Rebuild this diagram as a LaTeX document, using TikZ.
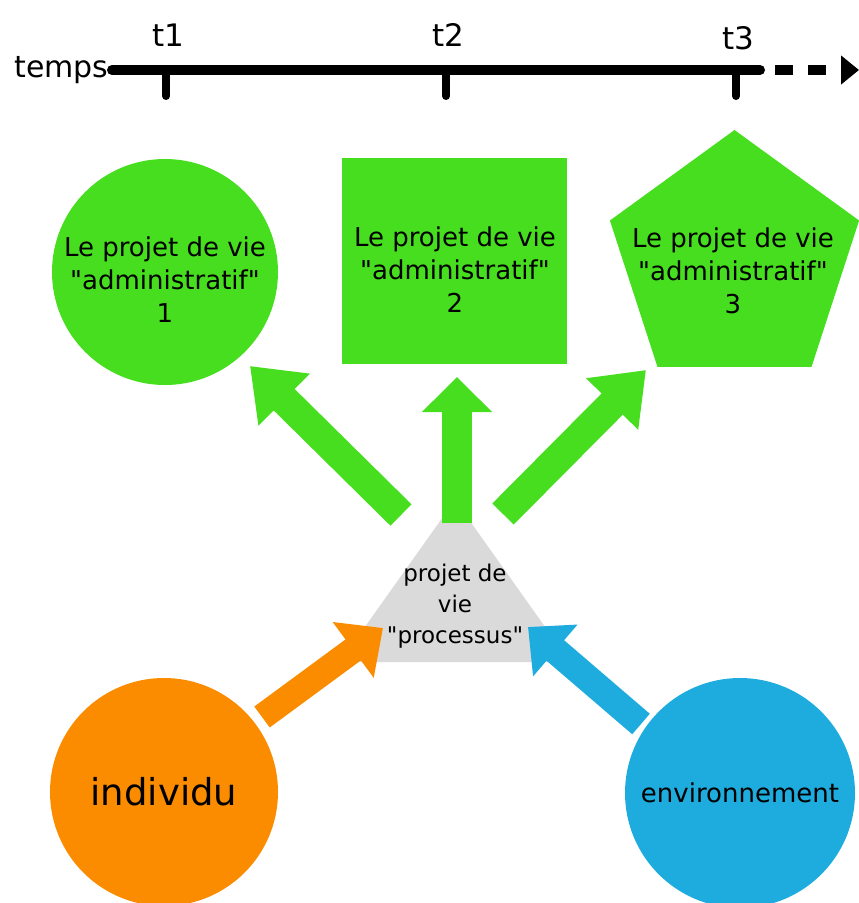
\documentclass[tikz,border=0pt]{standalone}
\usepackage{fontspec}
\setmainfont{DejaVu Sans}[Ligatures=TeXOff]
\usetikzlibrary{arrows.meta,shapes.geometric}

\definecolor{vert}{RGB}{70,222,30}
\definecolor{orangeind}{RGB}{251,140,0}
\definecolor{bleuenv}{RGB}{30,172,222}
\definecolor{gris}{RGB}{218,218,218}

\tikzset{
  forme/.style={fill=vert, draw=none, inner sep=0pt},
  texte/.style={align=center, font=\fontsize{26}{33}\selectfont},
  fleche/.style={line width=30pt, -{Triangle[width=70pt,length=48pt]}},
  cran/.style={line width=8pt, line cap=round},
}

\begin{document}
\begin{tikzpicture}[x=1pt,y=-1pt]
  \useasboundingbox (0,0) rectangle (859,903);

  % axe du temps
  \coordinate (tdeb) at (112,70);
  \coordinate (tfin) at (760,70);
  \coordinate (tpts) at (775,70);
  \coordinate (tbout) at (859,70);
  \draw[line width=10pt, line cap=round] (tdeb) -- (tfin);
  \draw[line width=10pt, dash pattern=on 18pt off 15pt,
        -{Triangle[width=28pt,length=18pt]}] (tpts) -- (tbout);
  \node[anchor=east, font=\fontsize{30}{30}\selectfont] (temps) at (tdeb) {temps};

  \foreach \x/\n/\y in {166/1/46, 446/2/46, 736/3/49} {
    \draw[cran] (\x,72) -- (\x,96);
    \node[anchor=base, font=\fontsize{31}{31}\selectfont] (t\n) at (\x+2,\y) {t\n};
  }

  % les trois projets administratifs
  \node[forme, circle, minimum size=226pt] (adm1) at (165,272) {};
  \node[forme, rectangle, minimum width=225pt, minimum height=206pt] (adm2) at (454.5,261) {};
  \node[forme, regular polygon, regular polygon sides=5, minimum size=262pt] (adm3) at (734.5,261) {};

  \node[texte] (txt1) at (165,280) {Le projet de vie\\"administratif"\\1};
  \node[texte] (txt2) at (455,270) {Le projet de vie\\"administratif"\\2};
  \node[texte] (txt3) at (733,271) {Le projet de vie\\"administratif"\\3};

  % projet de vie processus
  \coordinate (sommet) at (455,500);
  \coordinate (basg) at (340,662);
  \coordinate (basd) at (570,662);
  \fill[gris] (sommet) -- (basd) -- (basg) -- cycle;
  \node[align=center, font=\fontsize{23}{31}\selectfont] (proc) at (455,606)
    {projet de\\vie\\"processus"};

  % individu et environnement
  \node[circle, fill=orangeind, minimum size=228pt, inner sep=0pt,
        font=\fontsize{37}{37}\selectfont] (indiv) at (164,792) {individu};
  \node[circle, fill=bleuenv, minimum size=230pt, inner sep=0pt,
        font=\fontsize{26}{26}\selectfont] (envir) at (740,793) {environnement};

  % fleches
  \coordinate (g1a) at (401,515);
  \coordinate (g1b) at (250,366);
  \coordinate (g2a) at (457,523);
  \coordinate (g2b) at (457,377);
  \coordinate (g3a) at (503,514);
  \coordinate (g3b) at (646,370);
  \draw[fleche, vert] (g1a) -- (g1b);
  \draw[fleche, vert, -{Triangle[width=68pt,length=35pt]}] (g2a) -- (g2b);
  \draw[fleche, vert] (g3a) -- (g3b);

  \coordinate (oa) at (262,717);
  \coordinate (ob) at (383,628);
  \coordinate (ba) at (641,724);
  \coordinate (bb) at (528,627);
  \draw[orangeind, line width=26pt, -{Triangle[width=67pt,length=37pt]}] (oa) -- (ob);
  \draw[bleuenv, line width=27pt, -{Triangle[width=66pt,length=36pt]}] (ba) -- (bb);
\end{tikzpicture}
\end{document}
